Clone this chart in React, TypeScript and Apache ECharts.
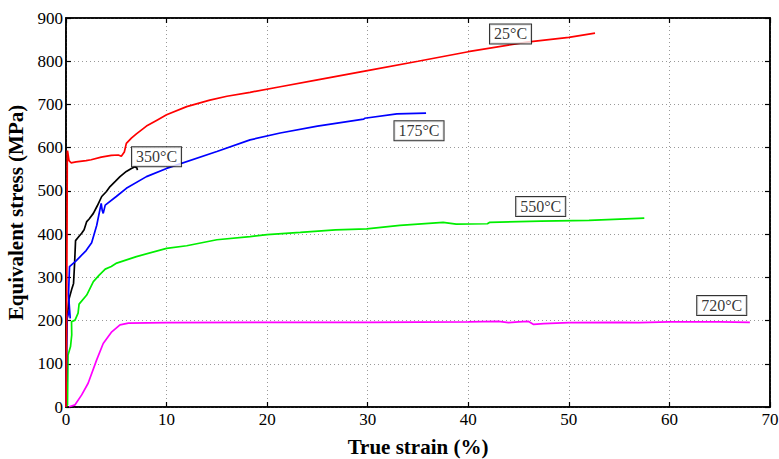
import React, { useEffect, useRef } from "react";
import * as echarts from "echarts";

const redStrain = [0, 0.05, 0.1, 0.13, 0.15, 0.3, 0.5, 1.0, 2.0, 2.5, 3.5, 4.5, 5.2, 5.5, 5.8, 6.0, 6.5, 7.0, 8.0, 9.0, 10.0, 12.0, 14.3, 16.0, 18.3, 21.3, 25, 30.1, 35, 40.0, 45.8, 50, 52.6];
const redStress = [0, 150, 400, 590, 593, 570, 565, 567, 570, 572, 578, 582, 583, 580, 590, 610, 622, 632, 650, 663, 676, 695, 710, 719, 728, 741, 757, 779, 800, 822, 844, 855, 865];

const blueStrain = [0, 0.1, 0.35, 0.42, 0.25, 0.35, 1.0, 2.0, 2.55, 3.05, 3.5, 3.6, 3.7, 3.9, 5.0, 6.0, 8.0, 10.0, 15.0, 18.3, 21.3, 25, 29.6, 29.7, 32.9, 35.8];
const blueStress = [0, 205, 225, 205, 260, 325, 338, 362, 380, 420, 471, 455, 448, 467, 487, 506, 533, 552, 591, 618, 634, 650, 666, 668, 678, 680];

const blackStrain = [0, 0.05, 0.1, 0.3, 0.6, 0.75, 0.85, 0.95, 1.3, 1.56, 1.8, 2.06, 2.3, 2.72, 3.1, 3.55, 4.0, 4.38, 4.9, 5.37, 6.0, 6.5, 6.87, 7.05, 7.1];
const blackStress = [0, 150, 200, 250, 275, 286, 330, 385, 395, 402, 410, 429, 435, 448, 465, 487, 498, 510, 522, 533, 545, 552, 556, 553, 548];

const greenStrain = [0, 0.15, 0.2, 0.45, 0.57, 0.55, 0.9, 1.2, 1.3, 2.06, 2.72, 3.3, 3.9, 4.5, 5.04, 7.0, 10, 12, 15, 18.3, 20, 23.3, 26.8, 29.9, 33.2, 37.5, 38.8, 41.9, 42.1, 47.2, 52, 57.5];
const greenStress = [0, 5, 120, 140, 167, 197, 201, 217, 238, 259, 290, 305, 319, 325, 333, 348, 367, 373, 387, 394, 399, 404, 410, 412, 420, 427, 423, 424, 427, 430, 432, 437];

const magentaStrain = [0.3, 0.4, 0.9, 1.56, 2.2, 3.05, 3.7, 4.55, 5.37, 6.2, 10, 20, 30, 40, 43, 44, 45, 46, 46.5, 47.5, 50, 55, 57, 60, 65, 68];
const magentaStress = [0, 1, 5, 28, 55, 109, 147, 174, 190, 194, 195, 196, 196, 197, 198, 195, 197, 198, 191, 193, 195, 196, 195, 197, 197, 196];

const labelNames = ["25°C", "175°C", "350°C", "550°C", "720°C"];
const labelStrain = [44.2, 35.1, 9.0, 47.2, 65.2];
const labelStress = [863, 639, 579, 464, 235];

const zip = (xs: number[], ys: number[]) => xs.map((x, i) => [x, ys[i]]);

const FONT = "Liberation Serif";

export default function App() {
  const ref = useRef<HTMLDivElement>(null);
  useEffect(() => {
    if (!ref.current) return;
    const chart = echarts.init(ref.current, undefined, { renderer: "svg" });
    const lineSeries = (data: number[][], color: string) => ({
      type: "line",
      data,
      showSymbol: false,
      symbol: "none",
      lineStyle: { color, width: 1.7 },
      xAxisIndex: 0,
      yAxisIndex: 0,
      z: 3,
    });
    const gridLine = { show: true, lineStyle: { type: [1, 3], color: "#999", width: 1 } };
    const tick = { show: true, inside: true, length: 5, lineStyle: { color: "#000", width: 1.2 } };
    const line = { show: true, onZero: false, lineStyle: { color: "#000", width: 1.6 } };
    chart.setOption({
      animation: false,
      backgroundColor: "#fff",
      grid: {
        left: 66, right: 9, top: 18, bottom: 52,
        outerBoundsMode: "none",
        containLabel: false,
        show: true, borderColor: "#000", borderWidth: 1.6,
      },
      xAxis: [
        {
          type: "value", min: 0, max: 70, interval: 10,
          position: "bottom",
          axisLine: line, axisTick: tick,
          name: "True strain (%)",
          nameLocation: "middle",
          nameGap: 29,
          nameTextStyle: { fontFamily: FONT, fontWeight: "bold", fontSize: 21, color: "#000" },
          axisLabel: { fontFamily: FONT, fontSize: 17, color: "#000", margin: 4 },
          splitLine: gridLine,
        },
        {
          type: "value", min: 0, max: 70, interval: 10,
          position: "top",
          axisLine: line, axisTick: tick,
          axisLabel: { show: false },
          splitLine: { show: false },
        },
      ],
      yAxis: [
        {
          type: "value", min: 0, max: 900, interval: 100,
          position: "left",
          axisLine: line, axisTick: tick,
          name: "Equivalent stress (MPa)",
          nameLocation: "middle",
          nameGap: 33,
          nameTextStyle: { fontFamily: FONT, fontWeight: "bold", fontSize: 21, color: "#000" },
          axisLabel: { fontFamily: FONT, fontSize: 17, color: "#000", margin: 3 },
          splitLine: gridLine,
        },
        {
          type: "value", min: 0, max: 900, interval: 100,
          position: "right",
          axisLine: line, axisTick: tick,
          axisLabel: { show: false },
          splitLine: { show: false },
        },
      ],
      series: [
        lineSeries(zip(magentaStrain, magentaStress), "#ff00ff"),
        lineSeries(zip(greenStrain, greenStress), "#00ee00"),
        lineSeries(zip(blackStrain, blackStress), "#000000"),
        lineSeries(zip(blueStrain, blueStress), "#0000ff"),
        lineSeries(zip(redStrain, redStress), "#ff0000"),
        {
          type: "line",
          xAxisIndex: 1,
          yAxisIndex: 1,
          data: [],
          silent: true,
        },
        {
          type: "scatter",
          xAxisIndex: 0,
          yAxisIndex: 0,
          symbolSize: 0.01,
          z: 10,
          data: labelNames.map((n, i) => ({ value: [labelStrain[i], labelStress[i]], name: n })),
          label: {
            show: true,
            position: "inside",
            formatter: (p: any) => p.name,
            fontFamily: FONT,
            fontSize: 16,
            color: "#000",
            backgroundColor: "#fff",
            borderColor: "#000",
            borderWidth: 1,
            padding: [2, 4, 1, 4],
          },
        },
      ],
    });
    return () => chart.dispose();
  }, []);
  return <div ref={ref} style={{ width: 779, height: 459, position: "absolute", left: 0, top: 0 }} />;
}
